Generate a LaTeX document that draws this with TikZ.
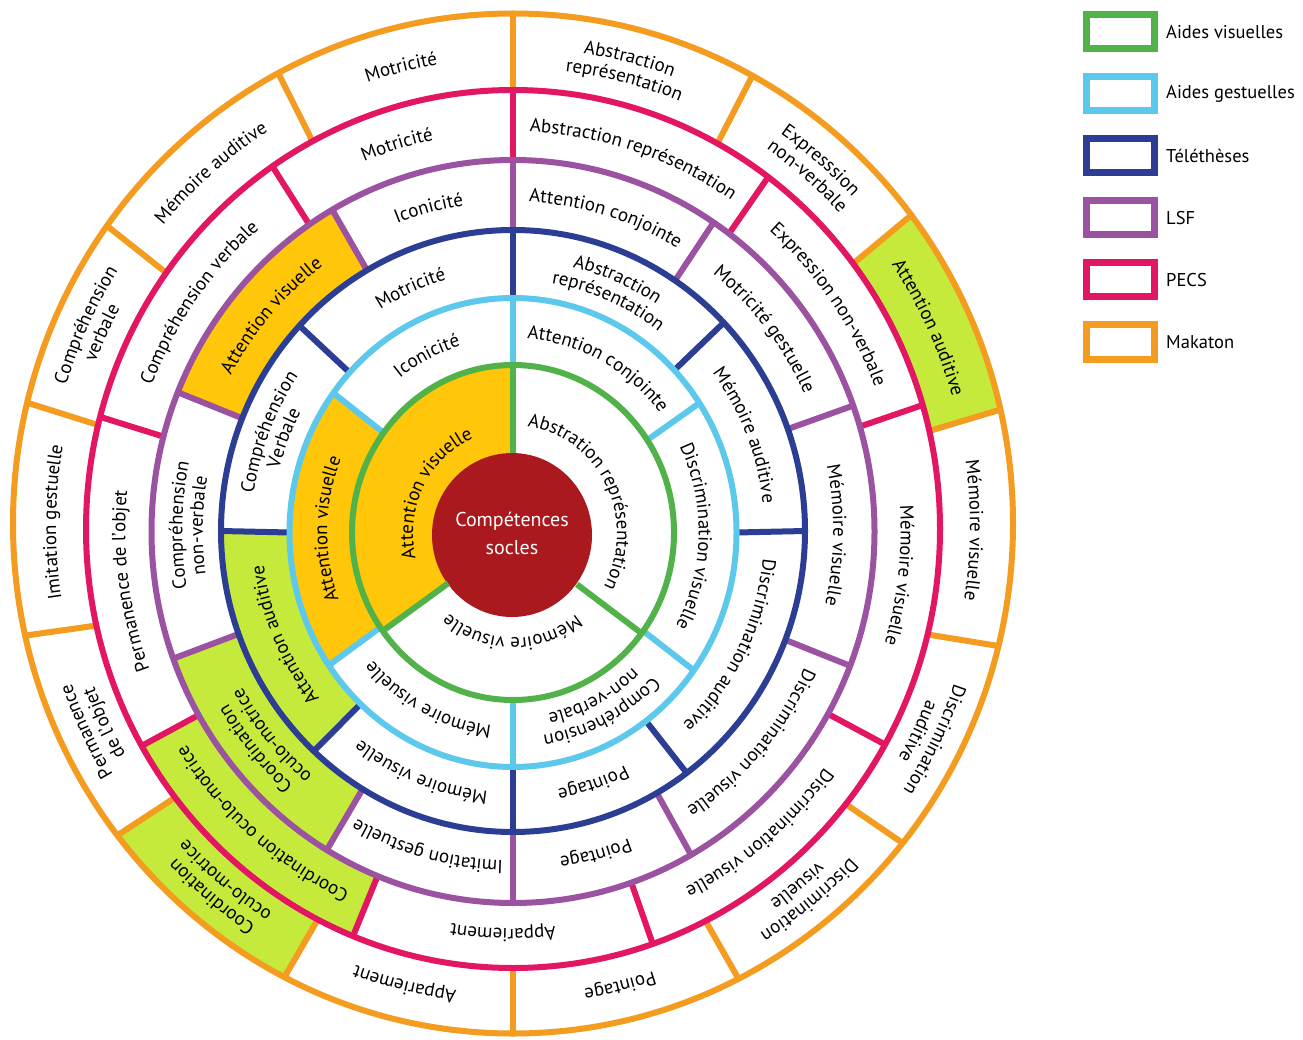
\documentclass[tikz,border=0pt]{standalone}
\usepackage{fontspec}
\setmainfont{PT Sans}
\usetikzlibrary{decorations.text}
\definecolor{cgreen}{RGB}{80,178,72}
\definecolor{clblue}{RGB}{92,200,236}
\definecolor{cdblue}{RGB}{44,62,148}
\definecolor{cpurple}{RGB}{155,82,160}
\definecolor{cpink}{RGB}{226,22,98}
\definecolor{corange}{RGB}{243,156,32}
\definecolor{cyel}{RGB}{255,198,10}
\definecolor{clime}{RGB}{198,234,60}
\definecolor{cred}{RGB}{170,25,30}
\newcommand\lblfont{\fontsize{19}{21}\selectfont}
\newcommand\setring[1]{\ifcase#1\relax
 \or \def\ci{535}\def\ri{80}\def\si{82}\def\co{532.5}\def\ro{161}\def\so{167.5}%
 \or \def\ci{532.5}\def\ri{161}\def\si{167.5}\def\co{532.5}\def\ro{223.5}\def\so{234.5}%
 \or \def\ci{532.5}\def\ri{223.5}\def\si{234.5}\def\co{531}\def\ro{292}\def\so{301}%
 \or \def\ci{531}\def\ri{292}\def\si{301}\def\co{531.5}\def\ro{361.5}\def\so{371.5}%
 \or \def\ci{531.5}\def\ri{361.5}\def\si{371.5}\def\co{529}\def\ro{427}\def\so{439}%
 \or \def\ci{529}\def\ri{427}\def\si{439}\def\co{523.5}\def\ro{500}\def\so{510}%
 \fi}
% annular sector fill: ring, lo, hi, colour
\newcommand\sect[4]{\setring{#1}%
 \pgfmathsetmacro\pxa{513+\ri*cos(#2)}\pgfmathsetmacro\pya{-\ci+\si*sin(#2)}%
 \pgfmathsetmacro\pxb{513+\ro*cos(#3)}\pgfmathsetmacro\pyb{-\co+\so*sin(#3)}%
 \fill[#4] (\pxa,\pya) arc[start angle=#2,end angle=#3,x radius=\ri,y radius=\si]
   -- (\pxb,\pyb) arc[start angle=#3,end angle=#2,x radius=\ro,y radius=\so] -- cycle;}
% divider: ring, angle, colour
\newcommand\dv[3]{\setring{#1}%
 \pgfmathsetmacro\pxa{513+\ri*cos(#2)}\pgfmathsetmacro\pya{-\ci+\si*sin(#2)}%
 \pgfmathsetmacro\pxb{513+\ro*cos(#2)}\pgfmathsetmacro\pyb{-\co+\so*sin(#2)}%
 \draw[ringline,#3] (\pxa,\pya) -- (\pxb,\pyb);}
% text on arc: ring, lo, hi, radial offset, text
\newcommand\arctext[5]{%
 \setring{#1}%
 \pgfmathsetmacro\mcy{(\ci+\co)/2}%
 \pgfmathsetmacro\mrx{(\ri+\ro)/2+#4}%
 \pgfmathsetmacro\mry{(\si+\so)/2+#4}%
 \pgfmathsetmacro\px{513+\mrx*cos(#3)}%
 \pgfmathsetmacro\py{-\mcy+\mry*sin(#3)}%
 \path[decorate,decoration={text along path,text align=center,text={|\lblfont|#5}}]
   (\px,\py) arc[start angle=#3,end angle=#2,x radius=\mrx,y radius=\mry];}
\newcommand\lbl[5][0]{\arctext{#2}{#3}{#4}{#1-6.5}{#5}}
\newcommand\lbll[6][0]{\arctext{#2}{#3}{#4}{#1+4}{#5}\arctext{#2}{#3}{#4}{#1-16.5}{#6}}
\begin{document}
\begin{tikzpicture}[x=1pt,y=1pt,
  ringline/.style={line width=6pt},
  legbox/.style={draw,line width=7pt,fill=white,minimum width=68pt,minimum height=34pt,inner sep=0pt},
  legtext/.style={anchor=west,font=\fontsize{18.5}{21}\selectfont,inner sep=0pt}]
\fill[white] (0,-1040) rectangle (1303,0);
\useasboundingbox (0,-1040) rectangle (1303,0);
% coloured sectors
\sect{1}{90}{216}{cyel}
\sect{2}{143.5}{214.5}{cyel}
\sect{4}{120}{158}{cyel}
\sect{3}{180}{227}{clime}
\sect{4}{200}{239}{clime}
\sect{5}{209.6}{248}{clime}
\sect{6}{217.7}{242.8}{clime}
\sect{6}{12.9}{37.2}{clime}
% centre disk
\fill[cred] (512,-535) ellipse[x radius=80,y radius=82];
% dividers
\foreach \a in {90,216,323} {\dv{1}{\a}{cgreen}}
\foreach \a in {90,143.5,214.5,270,324,33.5} {\dv{2}{\a}{clblue}}
\foreach \a in {0,43.8,90,137,180,227,270,306.5} {\dv{3}{\a}{cdblue}}
\foreach \a in {19.8,56.3,90,120,158,200,239,270,299.5,338.8} {\dv{4}{\a}{cpurple}}
\foreach \a in {16.4,53.3,90,124.3,165.2,209.6,248,289.1,330.6} {\dv{5}{\a}{cpink}}
\foreach \a in {12.9,37.2,61.4,90,118,144.3,166.3,192.7,217.7,242.8,270,296.8,321.2,346.1} {\dv{6}{\a}{corange}}
% ring circles
\draw[ringline,cgreen] (513,-532.5) ellipse[x radius=161,y radius=167.5];
\draw[ringline,clblue] (513,-532.5) ellipse[x radius=223.5,y radius=234.5];
\draw[ringline,cdblue] (513,-531) ellipse[x radius=292,y radius=301];
\draw[ringline,cpurple] (513,-531.5) ellipse[x radius=361.5,y radius=371.5];
\draw[ringline,cpink] (513,-529) ellipse[x radius=427,y radius=439];
\draw[ringline,corange] (513,-523.5) ellipse[x radius=500,y radius=510];
% centre text
\node[text=white,align=center,font=\fontsize{20}{28}\selectfont] (core) at (512,-533) {Compétences\\socles};
% ring 1
\lbl[-14]{1}{90}{216}{Attention visuelle}
\lbl[-14]{1}{216}{323}{Mémoire visuelle}
\lbl[-10]{1}{-37}{90}{Abstration représentation}
% ring 2
\lbl{2}{90}{143.5}{Iconicité}
\lbl{2}{143.5}{214.5}{Attention visuelle}
\lbl{2}{214.5}{270}{Mémoire visuelle}
\lbll{2}{270}{324}{Compréhension}{non-verbale}
\lbl{2}{-36}{33.5}{Discrimination visuelle}
\lbl{2}{33.5}{90}{Attention conjointe}
% ring 3
\lbll{3}{43.8}{90}{Abstraction}{représentation}
\lbl{3}{90}{137}{Motricité}
\lbll{3}{137}{180}{Compréhension}{Verbale}
\lbl{3}{180}{227}{Attention auditive}
\lbl{3}{227}{270}{Mémoire visuelle}
\lbl{3}{270}{306.5}{Pointage}
\lbl{3}{306.5}{360}{Discrimination auditive}
\lbl{3}{0}{43.8}{Mémoire auditive}
% ring 4
\lbl{4}{56.3}{90}{Attention conjointe}
\lbl{4}{90}{120}{Iconicité}
\lbl{4}{120}{158}{Attention visuelle}
\lbll{4}{158}{200}{Compréhension}{non-verbale}
\lbll{4}{200}{239}{Coordination}{oculo-motrice}
\lbl{4}{239}{270}{Imitation gestuelle}
\lbl{4}{270}{299.5}{Pointage}
\lbl{4}{299.5}{338.8}{Discrimination visuelle}
\lbl{4}{-21.2}{19.8}{Mémoire visuelle}
\lbl{4}{19.8}{56.3}{Motricité gestuelle}
% ring 5
\lbl{5}{53.3}{90}{Abstraction représentation}
\lbl{5}{90}{124.3}{Motricité}
\lbl{5}{124.3}{165.2}{Compréhension verbale}
\lbl{5}{165.2}{209.6}{Permanence de l’objet}
\lbl{5}{209.6}{248}{Coordination oculo-motrice}
\lbl{5}{248}{289.1}{Appariement}
\lbl{5}{289.1}{330.6}{Discrimination visuelle}
\lbl{5}{-29.4}{16.4}{Mémoire visuelle}
\lbl{5}{16.4}{53.3}{Expression non-verbale}
% ring 6
\lbll{6}{61.4}{90}{Abstraction}{représentation}
\lbl{6}{90}{118}{Motricité}
\lbl{6}{118}{144.3}{Mémoire auditive}
\lbll{6}{144.3}{166.3}{Compréhension}{verbale}
\lbl{6}{166.3}{192.7}{Imitation gestuelle}
\lbll{6}{192.7}{217.7}{Permanence}{de l’objet}
\lbll{6}{217.7}{242.8}{Coordination}{oculo-motrice}
\lbl{6}{242.8}{270}{Appariement}
\lbl{6}{270}{296.8}{Pointage}
\lbll{6}{296.8}{321.2}{Discrimination}{visuelle}
\lbll{6}{321.2}{346.1}{Discrimination}{auditive}
\lbl{6}{-13.9}{12.9}{Mémoire visuelle}
\lbl{6}{12.9}{37.2}{Attention auditive}
\lbll{6}{37.2}{61.4}{Expresssion}{non-verbale}
% legend
\node[legbox,draw=cgreen] (lg1) at (1120,-32) {};
\node[legbox,draw=clblue] (lg2) at (1120,-94) {};
\node[legbox,draw=cdblue] (lg3) at (1120,-156) {};
\node[legbox,draw=cpurple] (lg4) at (1120,-218) {};
\node[legbox,draw=cpink] (lg5) at (1120,-280) {};
\node[legbox,draw=corange] (lg6) at (1120,-342) {};
\node[legtext] (lt1) at (1166,-32) {Aides visuelles};
\node[legtext] (lt2) at (1166,-94) {Aides gestuelles};
\node[legtext] (lt3) at (1166,-156) {Téléthèses};
\node[legtext] (lt4) at (1166,-218) {LSF};
\node[legtext] (lt5) at (1166,-280) {PECS};
\node[legtext] (lt6) at (1166,-342) {Makaton};
\end{tikzpicture}
\end{document}
